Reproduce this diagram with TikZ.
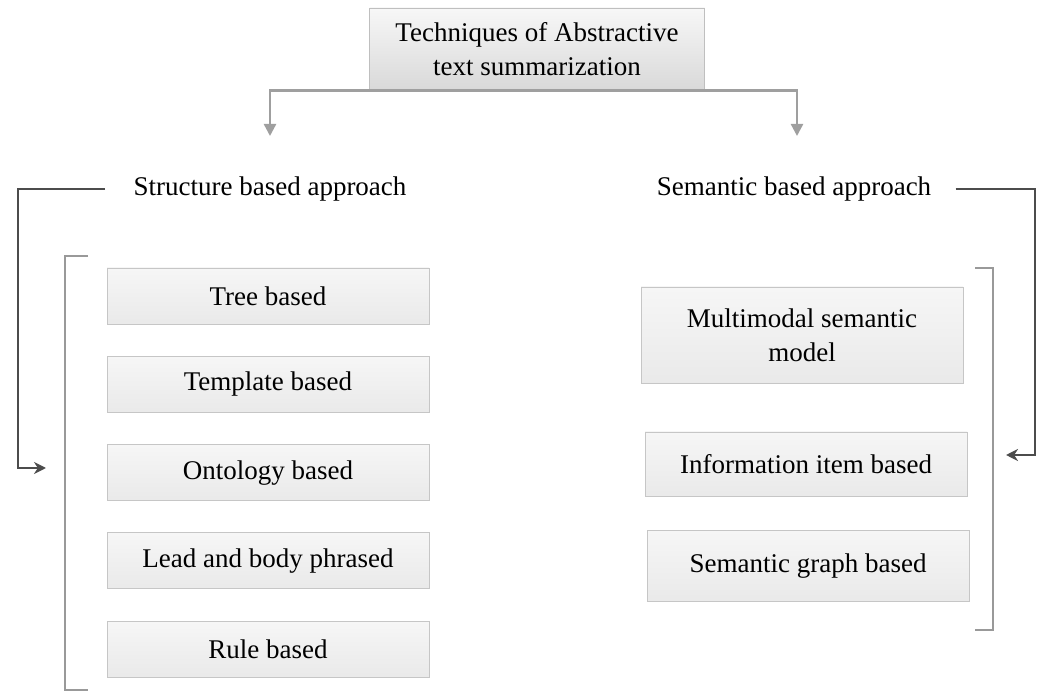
\documentclass[tikz,border=0pt]{standalone}
\usepackage{fontspec}
\setmainfont{Liberation Serif}
\usetikzlibrary{arrows.meta, positioning}

\begin{document}
\begin{tikzpicture}[
			x=0.5pt, y=-0.5pt,
			font=\fontsize{13.5}{17}\selectfont,
			node distance=15.75pt and 0pt,
			box/.style={draw=gray!45, top color=gray!7, bottom color=gray!17, align=center, inner sep=0pt, minimum width=161pt, minimum height=28pt},
			rootbox/.style={draw=gray!50, top color=gray!6, bottom color=gray!30, align=center, inner sep=0pt, minimum width=167.5pt, minimum height=41pt},
			approach/.style={inner sep=0pt},
			toparrow/.style={draw=gray!75, line width=1.2pt, -{Triangle[length=6pt, width=6pt]}},
			outer/.style={draw=black!70, line width=1.3pt, -{Stealth[length=6pt, width=6pt]}},
			bracket/.style={draw=gray!80, line width=1.2pt}
			]
			\useasboundingbox (0,0) rectangle (1044,694);
			
			% Nodes
			\node (root) [rootbox] at (537,49) {Techniques of Abstractive\\text summarization};
			\node (structure) [approach] at (270,189) {Structure based approach};
			\node (semantic) [approach] at (794,189) {Semantic based approach};
			
			\node (tree) [box] at (268,296) {Tree based};
			\node (template) [box, below=of tree] {Template based};
			\node (ontology) [box, below=of template] {Ontology based};
			\node (lead) [box, below=of ontology] {Lead and body phrased};
			\node (rule) [box, below=of lead] {Rule based};
			
			\node (multimodal) [box, minimum height=48pt] at (802,335) {Multimodal semantic\\model};
			\node (infoitem) [box, minimum height=32pt] at (806,464) {Information item based};
			\node (graph) [box, minimum height=35.5pt] at (808,566) {Semantic graph based};
			
			\coordinate (ltip) at (270,136);
			\coordinate (rtip) at (797,136);
			\coordinate (lcorner) at (18,468);
			\coordinate (rcorner) at (1035,455);
			\coordinate (lend) at (46,468);
			\coordinate (rend) at (1006,455);
			
			% Connections
			\draw [toparrow] (root.south) -| (ltip);
			\draw [toparrow] (root.south) -| (rtip);
			\draw [outer] ([xshift=-14pt]structure.west) -| (lcorner) -- (lend);
			\draw [outer] ([xshift=12pt]semantic.east) -| (rcorner) -- (rend);
			
			% Brackets
			\draw [bracket] (88,256) -- (65,256) -- (65,690) -- (88,690);
			\draw [bracket] (975,268) -- (993,268) -- (993,630) -- (975,630);
			
		\end{tikzpicture}
\end{document}
